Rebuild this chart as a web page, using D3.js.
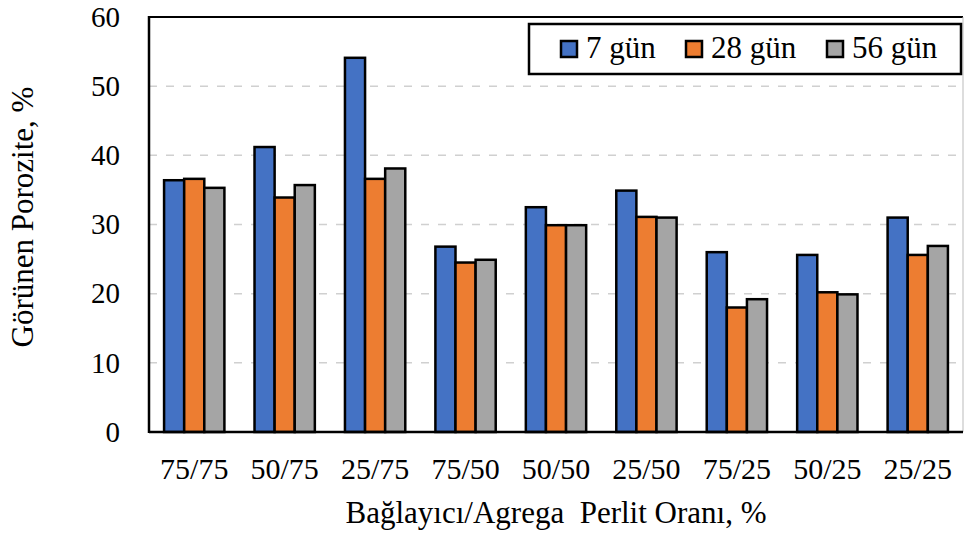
<!DOCTYPE html>
<html>
<head>
<meta charset="utf-8">
<script src="https://cdn.jsdelivr.net/npm/d3@7"></script>
<style>
  body { margin: 0; background: #fff; }
  svg text { font-family: 'Liberation Serif', serif !important; fill: #000; }
</style>
</head>
<body>
<div id="chart"></div>
<script>
// data
const categories = ["75/75", "50/75", "25/75", "75/50", "50/50", "25/50", "75/25", "50/25", "25/25"];
const seriesNames = ["7 gün", "28 gün", "56 gün"];
const gun7 = [36.4, 41.2, 54.1, 26.8, 32.5, 34.9, 26.0, 25.6, 31.0];
const gun28 = [36.6, 33.9, 36.6, 24.5, 29.9, 31.1, 18.0, 20.2, 25.6];
const gun56 = [35.3, 35.7, 38.1, 24.9, 29.9, 31.0, 19.2, 19.9, 26.9];
const yTicks = [0, 10, 20, 30, 40, 50, 60];
const colors = ["#4472C4", "#ED7D31", "#A5A5A5"];

const width = 965, height = 541;
const margin = { top: 17, right: 2, bottom: 109, left: 149 };
const w = width - margin.left - margin.right;
const h = height - margin.top - margin.bottom;
const serif = "'Liberation Serif', serif";

const svg = d3.select("#chart").append("svg")
  .attr("width", width)
  .attr("height", height)
  .attr("font-family", serif);

const g = svg.append("g")
  .attr("transform", "translate(" + margin.left + "," + margin.top + ")");

// gridlines
const x0 = d3.scaleBand().domain(categories).range([0, w]).paddingInner(0.333).paddingOuter(0.1667);
const x1 = d3.scaleBand().domain(seriesNames).range([0, x0.bandwidth()]).padding(0);
const y = d3.scaleLinear().domain([0, 60]).range([h, 0]);

g.selectAll(".grid")
  .data(yTicks.filter(t => t > 0 && t < 60))
  .enter().append("line")
  .attr("x1", 0).attr("x2", w)
  .attr("y1", d => y(d)).attr("y2", d => y(d))
  .attr("stroke", "#D0D0D0")
  .attr("stroke-width", 1.5)
  .attr("stroke-dasharray", "8,9");

// bars
const rows = categories.map((c, i) => ({ cat: c, vals: [gun7[i], gun28[i], gun56[i]] }));
const grp = g.selectAll(".grp")
  .data(rows)
  .enter().append("g")
  .attr("transform", d => "translate(" + x0(d.cat) + ",0)");

grp.selectAll("rect")
  .data(d => d.vals.map((v, k) => ({ name: seriesNames[k], v: v, k: k })))
  .enter().append("rect")
  .attr("x", d => x1(d.name))
  .attr("y", d => y(d.v))
  .attr("width", x1.bandwidth())
  .attr("height", d => h - y(d.v))
  .attr("fill", d => colors[d.k])
  .attr("stroke", "#000")
  .attr("stroke-width", 2.5);

// frame
g.append("line").attr("x1", 0).attr("x2", w).attr("y1", 0).attr("y2", 0)
  .attr("stroke", "#000").attr("stroke-width", 2);
g.append("line").attr("x1", w).attr("x2", w).attr("y1", 0).attr("y2", h)
  .attr("stroke", "#bbb").attr("stroke-width", 1);
g.append("line").attr("x1", 0).attr("x2", 0).attr("y1", -1).attr("y2", h + 1)
  .attr("stroke", "#000").attr("stroke-width", 2.5);
g.append("line").attr("x1", 0).attr("x2", w).attr("y1", h).attr("y2", h)
  .attr("stroke", "#000").attr("stroke-width", 2.5);

// y axis labels
const yAxis = g.append("g").call(d3.axisLeft(y).tickValues(yTicks).tickSize(0).tickPadding(29));
yAxis.attr("font-family", serif).attr("font-size", 29);
yAxis.select(".domain").remove();
yAxis.selectAll("text").attr("fill", "#000");

// x axis labels
const xAxis = g.append("g")
  .attr("transform", "translate(0," + h + ")")
  .call(d3.axisBottom(x0).tickSize(0).tickPadding(26));
xAxis.attr("font-family", serif).attr("font-size", 30);
xAxis.select(".domain").remove();
xAxis.selectAll("text").attr("fill", "#000");

// axis titles
svg.append("text")
  .attr("x", margin.left + w / 2)
  .attr("y", 523)
  .attr("text-anchor", "middle")
  .attr("font-size", 31)
  .style("white-space", "pre")
  .text("Bağlayıcı/Agrega  Perlit Oranı, %");

svg.append("text")
  .attr("transform", "translate(33,217) rotate(-90)")
  .attr("text-anchor", "middle")
  .attr("font-size", 31)
  .text("Görünen Porozite, %");

// legend
const legend = svg.append("g");
legend.append("rect")
  .attr("x", 529).attr("y", 24)
  .attr("width", 432).attr("height", 50)
  .attr("fill", "#fff")
  .attr("stroke", "#000")
  .attr("stroke-width", 2.5);
const legX = [561, 686, 827];
seriesNames.forEach((s, k) => {
  legend.append("rect")
    .attr("x", legX[k]).attr("y", 41)
    .attr("width", 16).attr("height", 16)
    .attr("fill", colors[k])
    .attr("stroke", "#000")
    .attr("stroke-width", 2.5);
  legend.append("text")
    .attr("x", legX[k] + 25).attr("y", 58)
    .attr("font-size", 31)
    .text(s);
});
</script>
</body>
</html>
